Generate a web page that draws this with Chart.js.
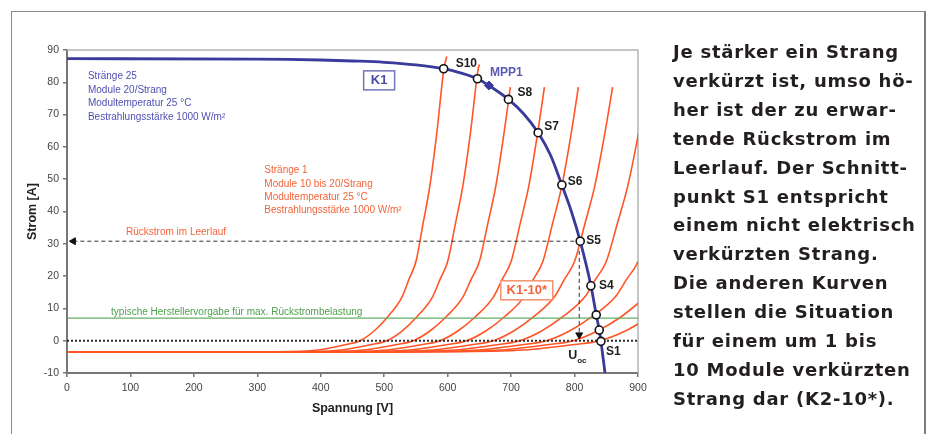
<!DOCTYPE html>
<html lang="de">
<head>
<meta charset="utf-8">
<script src="https://cdn.jsdelivr.net/npm/chart.js@4.4.1/dist/chart.umd.min.js"></script>
<style>
  html, body { margin: 0; padding: 0; background: #fff; }
  #wrap { position: relative; width: 928px; height: 434px; overflow: hidden; }
  #rahmen { position: absolute; left: 11px; top: 11px; width: 912px; height: 440px;
            border-left: 1px solid #8c8c8c; border-top: 1px solid #8c8c8c; border-right: 2px solid #7c7c7c; }
  #chart { position: absolute; left: 0; top: 0; }
  #text { position: absolute; left: 673px; top: 38px; font-family: "DejaVu Sans"; font-weight: 700;
          font-size: 18px; letter-spacing: 0.75px; line-height: 28.9px; color: #231f20; white-space: nowrap; }
</style>
</head>
<body>
<div id="wrap">
  <div id="rahmen"></div>
  <canvas id="chart" width="928" height="434"></canvas>
  <div id="text">
    <div>Je stärker ein Strang</div>
    <div>verkürzt ist, umso hö-</div>
    <div>her ist der zu erwar-</div>
    <div>tende Rückstrom im</div>
    <div>Leerlauf. Der Schnitt-</div>
    <div>punkt S1 entspricht</div>
    <div>einem nicht elektrisch</div>
    <div>verkürzten Strang.</div>
    <div>Die anderen Kurven</div>
    <div>stellen die Situation</div>
    <div>für einem um 1 bis</div>
    <div>10 Module verkürzten</div>
    <div>Strang dar (K2-10*).</div>
  </div>
</div>
<script>
// Kennlinie K1 (25 Stränge à 20 Module)
const spannungK1 = [0, 300, 350, 400, 450, 500, 550, 593.7, 620, 646.9, 665, 695.8, 720, 742.6, 762, 780, 795, 808.9, 825.8, 834.2, 838.9, 841.6, 848];
const stromK1 = [87.3, 87.2, 87.1, 86.9, 86.6, 86.2, 85.4, 84.2, 82.9, 81.1, 79.0, 74.7, 70.2, 64.4, 57.5, 48.2, 40.0, 30.8, 17.0, 8.0, 3.3, -0.2, -10];

// Einzelstrang mit 11 ... 20 Modulen (Kurven K1-10*)
const spannung11 = [0, 330, 396, 440, 462, 484, 506, 528, 539, 550, 561, 572, 583, 594, 598.5];
const strom11 = [-3.45, -3.4, -2.9, -1.2, 0, 3, 7.5, 13.5, 19, 24.5, 36, 48, 64.5, 84, 88];
const spannung12 = [0, 360, 432, 480, 504, 528, 552, 576, 588, 600, 612, 624, 636, 648, 650];
const strom12 = [-3.45, -3.4, -2.9, -1.2, 0, 3, 7.5, 13.5, 19, 24.5, 36, 48, 64.5, 84, 85.5];
const spannung13 = [0, 390, 468, 520, 546, 572, 598, 624, 637, 650, 663, 676, 689, 698.8];
const strom13 = [-3.45, -3.4, -2.9, -1.2, 0, 3, 7.5, 13.5, 19, 24.5, 36, 48, 64.5, 78.5];
const spannung14 = [0, 420, 504, 560, 588, 616, 644, 672, 686, 700, 714, 728, 742, 752.5];
const strom14 = [-3.45, -3.4, -2.9, -1.2, 0, 3, 7.5, 13.5, 19, 24.5, 36, 48, 64.5, 78.5];
const spannung15 = [0, 450, 540, 600, 630, 660, 690, 720, 735, 750, 765, 780, 795, 806];
const strom15 = [-3.45, -3.4, -2.9, -1.2, 0, 3, 7.5, 13.5, 19, 24.5, 36, 48, 64.5, 78.5];
const spannung16 = [0, 480, 576, 640, 672, 704, 736, 768, 784, 800, 816, 832, 848, 860];
const strom16 = [-3.45, -3.4, -2.9, -1.2, 0, 3, 7.5, 13.5, 19, 24.5, 36, 48, 64.5, 78.5];
const spannung17 = [0, 510, 612, 680, 714, 748, 782, 816, 833, 850, 867, 884, 901, 918];
const strom17 = [-3.45, -3.4, -2.9, -1.2, 0, 3, 7.5, 13.5, 19, 24.5, 36, 48, 64.5, 84];
const spannung18 = [0, 540, 648, 720, 756, 792, 828, 864, 882, 900, 918];
const strom18 = [-3.45, -3.4, -2.9, -1.2, 0, 3, 7.5, 13.5, 19, 24.5, 36];
const spannung19 = [0, 570, 684, 760, 798, 836, 874, 912];
const strom19 = [-3.45, -3.4, -2.9, -1.2, 0, 3, 7.5, 13.5];
const spannung20 = [0, 600, 720, 800, 840, 880, 920];
const strom20 = [-3.45, -3.4, -2.9, -1.2, 0, 3, 7.5];

// Schnittpunkte S1 ... S10 und MPP
const schnittNamen = ["S1", "", "", "S4", "S5", "S6", "S7", "S8", "", "S10"];
const schnittSpannung = [841.6, 838.9, 834.2, 825.8, 808.9, 780, 742.6, 695.8, 646.9, 593.7];
const schnittStrom = [-0.2, 3.3, 8.0, 17.0, 30.8, 48.2, 64.4, 74.7, 81.1, 84.2];
const mppSpannung = [665];
const mppStrom = [79.0];

const herstellerGrenze = 7;
const spannungTicks = [0, 100, 200, 300, 400, 500, 600, 700, 800, 900];
const stromTicks = [-10, 0, 10, 20, 30, 40, 50, 60, 70, 80, 90];

const infoK1 = ["Stränge 25", "Module 20/Strang", "Modultemperatur 25 °C", "Bestrahlungsstärke 1000 W/m²"];
const infoStrang = ["Stränge 1", "Module 10 bis 20/Strang", "Modultemperatur 25 °C", "Bestrahlungsstärke 1000 W/m²"];

const BLAU = "#3a3a9c";
const ORANGE = "#ff5526";

const pts = (xs, ys) => xs.map((v, i) => ({ x: v, y: ys[i] }));

const strangKurven = [
    [spannung11, strom11], [spannung12, strom12], [spannung13, strom13], [spannung14, strom14],
    [spannung15, strom15], [spannung16, strom16], [spannung17, strom17], [spannung18, strom18],
    [spannung19, strom19], [spannung20, strom20],
].map(([v, i]) => ({
    data: pts(v, i),
    showLine: true,
    borderColor: ORANGE,
    borderWidth: 1.6,
    pointRadius: 0,
    cubicInterpolationMode: "monotone",
    order: 6,
}));

const s5 = { x: schnittSpannung[4], y: schnittStrom[4] };

const beschriftung = {
    id: "beschriftung",
    beforeDatasetsDraw(chart) {
        const { ctx, chartArea: a } = chart;
        ctx.save();
        ctx.strokeStyle = "#b4b4b4";
        ctx.lineWidth = 1.5;
        ctx.beginPath();
        ctx.moveTo(a.left, a.top);
        ctx.lineTo(a.right, a.top);
        ctx.lineTo(a.right, a.bottom);
        ctx.stroke();
        ctx.restore();
    },
    afterDatasetsDraw(chart) {
        const { ctx } = chart;
        const px = (v) => chart.scales.x.getPixelForValue(v);
        const py = (v) => chart.scales.y.getPixelForValue(v);
        const font = (size, bold) => (bold ? "bold " : "") + size + "px 'Liberation Sans', Arial, sans-serif";

        ctx.save();
        ctx.textBaseline = "middle";
        ctx.textAlign = "left";

        ctx.fillStyle = "#5050b2";
        ctx.font = font(10);
        infoK1.forEach((t, i) => ctx.fillText(t, px(33), py(81.8) + i * 13.5));

        ctx.fillStyle = "#f2643a";
        infoStrang.forEach((t, i) => ctx.fillText(t, px(311), py(52.7) + i * 13.4));
        ctx.fillText("Rückstrom im Leerlauf", px(93), py(33.6));

        ctx.fillStyle = "#4f9f4f";
        ctx.fillText("typische Herstellervorgabe für max. Rückstrombelastung", px(69.5), py(8.8));

        // Boxen K1 und K1-10*
        const box = (text, cx, cy, w, farbe, rand) => {
            const x = px(cx), y = py(cy);
            ctx.fillStyle = "#fff";
            ctx.fillRect(x - w / 2, y - 9.5, w, 19);
            ctx.strokeStyle = rand;
            ctx.lineWidth = 1.5;
            ctx.strokeRect(x - w / 2, y - 9.5, w, 19);
            ctx.fillStyle = farbe;
            ctx.font = font(13, true);
            ctx.textAlign = "center";
            ctx.fillText(text, x, y + 0.5);
            ctx.textAlign = "left";
        };
        box("K1", 492, 80.6, 31, "#4a4aa8", "#7474bc");
        box("K1-10*", 724.7, 15.6, 52, "#f2643a", "#f4916e");

        // Schnittpunkt-Namen
        const versatz = { S1: [5, 10], S4: [8, 0], S5: [6, -1], S6: [6, -3], S7: [6, -6], S8: [9, -7], S10: [12, -5] };
        ctx.fillStyle = "#1e1e1e";
        ctx.font = font(12, true);
        schnittNamen.forEach((n, i) => {
            if (!n) return;
            const [dx, dy] = versatz[n];
            ctx.fillText(n, px(schnittSpannung[i]) + dx, py(schnittStrom[i]) + dy);
        });

        ctx.fillStyle = "#5a5ab6";
        ctx.fillText("MPP1", px(mppSpannung[0]) + 1, py(mppStrom[0]) - 13);

        ctx.fillStyle = "#1e1e1e";
        ctx.font = font(12.5, true);
        ctx.fillText("U", px(790), py(-4.6));
        ctx.font = font(8, true);
        ctx.fillText("oc", px(790) + 9, py(-4.6) + 5);
        ctx.restore();
    },
};

Chart.defaults.font.family = "'Liberation Sans', Arial, sans-serif";

new Chart(document.getElementById("chart"), {
    type: "scatter",

    data: {
        datasets: [
            {
                data: pts(schnittSpannung, schnittStrom),
                pointRadius: 4,
                pointBorderWidth: 1.6,
                pointBackgroundColor: "#fff",
                pointBorderColor: "#111",
                order: 0,
            },
            {
                data: pts(mppSpannung, mppStrom),
                pointStyle: "rectRot",
                pointRadius: 4.5,
                pointBackgroundColor: BLAU,
                pointBorderColor: BLAU,
                order: 1,
            },
            {
                data: pts(spannungK1, stromK1),
                showLine: true,
                borderColor: BLAU,
                borderWidth: 2.8,
                pointRadius: 0,
                cubicInterpolationMode: "monotone",
                order: 2,
            },
            {
                data: [{ x: 10, y: s5.y }, { x: s5.x, y: s5.y }],
                showLine: true,
                borderColor: "#333",
                borderWidth: 1,
                borderDash: [4, 3],
                pointStyle: "triangle",
                rotation: -90,
                pointRadius: [4, 0],
                pointBackgroundColor: "#111",
                pointBorderColor: "#111",
                order: 3,
            },
            {
                data: [{ x: s5.x - 1.5, y: s5.y - 3 }, { x: s5.x - 1.5, y: 1.8 }],
                showLine: true,
                borderColor: "#333",
                borderWidth: 1,
                borderDash: [4, 3],
                pointStyle: "triangle",
                rotation: 180,
                pointRadius: [0, 4],
                pointBackgroundColor: "#111",
                pointBorderColor: "#111",
                order: 3,
            },
            {
                data: [{ x: 0, y: 0 }, { x: 900, y: 0 }],
                showLine: true,
                borderColor: "#2a2a2a",
                borderWidth: 2,
                borderDash: [2, 2],
                pointRadius: 0,
                order: 4,
            },
            {
                data: [{ x: 0, y: herstellerGrenze }, { x: 900, y: herstellerGrenze }],
                showLine: true,
                borderColor: "#66ad66",
                borderWidth: 1.2,
                pointRadius: 0,
                order: 5,
            },
            ...strangKurven,
        ],
    },

    options: {
        responsive: false,

        animation: false,

        events: [],

        layout: { padding: { left: 20, right: 290, top: 50, bottom: 14 } },

        plugins: { legend: { display: false }, tooltip: { enabled: false } },

        scales: {
            x: {
                type: "linear",
                min: 0,
                max: 900,
                afterBuildTicks: (s) => { s.ticks = spannungTicks.map((v) => ({ value: v })); },
                afterFit: (s) => { s.height = 47; },
                ticks: { color: "#444", font: { size: 10.5 }, padding: 5, maxRotation: 0 },
                grid: { drawOnChartArea: false, tickLength: 4, color: "#777", lineWidth: 1.5 },
                border: { color: "#777", width: 2 },
                title: {
                    display: true,
                    text: "Spannung [V]",
                    color: "#222",
                    font: { size: 12.5, weight: "bold" },
                    padding: { top: 0, bottom: 4 },
                },
            },
            y: {
                type: "linear",
                min: -10,
                max: 90,
                afterBuildTicks: (s) => { s.ticks = stromTicks.map((v) => ({ value: v })); },
                afterFit: (s) => { s.width = 47; },
                ticks: { color: "#444", font: { size: 10.5 }, padding: 4 },
                grid: { drawOnChartArea: false, tickLength: 4, color: "#777", lineWidth: 1.5 },
                border: { color: "#777", width: 2 },
                title: {
                    display: true,
                    text: "Strom [A]",
                    color: "#222",
                    font: { size: 12.5, weight: "bold" },
                    padding: { top: 5, bottom: 0 },
                },
            },
        },
    },

    plugins: [beschriftung],
});
</script>
</body>
</html>
